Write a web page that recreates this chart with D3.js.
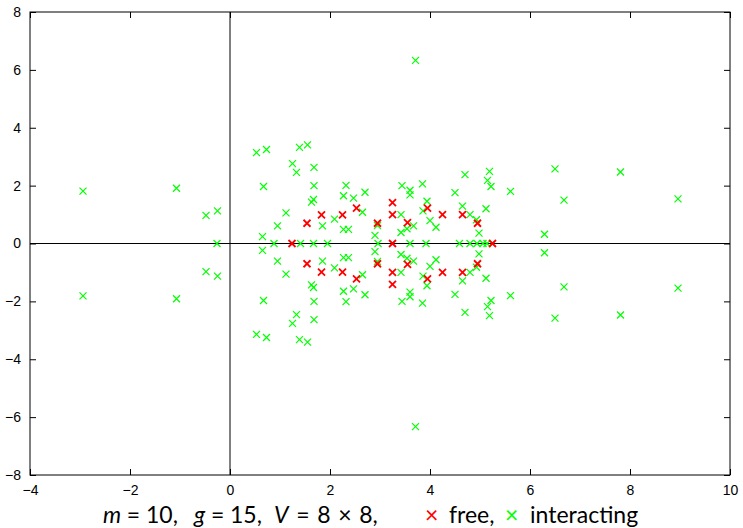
<!DOCTYPE html>
<html>
<head>
<meta charset="utf-8">
<script src="https://cdn.jsdelivr.net/npm/d3@7"></script>
<style>
  body { margin: 0; background: #fff; }
  svg { display: block; }
  .tick text { font-family: "Liberation Sans", Arial, sans-serif; font-size: 14px; fill: #000; }
  .caption { font-family: Lato, "DejaVu Sans", sans-serif; font-size: 23px; white-space: pre; fill: #000; }
</style>
</head>
<body>
<svg id="chart"></svg>
<script>
// Chart size
const width = 743;
const height = 528;

// Tick values
const xTicks = [-4, -2, 0, 2, 4, 6, 8, 10];
const yTicks = [-8, -6, -4, -2, 0, 2, 4, 6, 8];

// Free spectrum (red)
const freePoints = [
  [1.24, 0], [3.25, 0], [5.25, 0],
  [1.54, 0.70], [1.54, -0.70],
  [1.83, 0.99], [1.83, -0.99],
  [2.25, 0.99], [2.25, -0.99],
  [2.53, 1.22], [2.53, -1.22],
  [2.95, 0.70], [2.95, -0.70],
  [3.25, 1.41], [3.25, -1.41],
  [3.25, 1.00], [3.25, -1.00],
  [3.55, 0.72], [3.55, -0.72],
  [3.95, 1.22], [3.95, -1.22],
  [4.25, 1.00], [4.25, -1.00],
  [4.65, 1.00], [4.65, -1.00],
  [4.95, 0.70], [4.95, -0.70]
];

// Interacting spectrum (green)
const interactingPoints = [
  [-0.26, 0], [0.88, 0], [1.41, 0], [1.67, 0], [1.95, 0], [2.96, 0],
  [3.60, 0], [3.92, 0], [4.59, 0], [4.80, 0], [4.94, 0], [5.06, 0], [5.14, 0],
  [-2.94, 1.81], [-2.94, -1.81],
  [-1.07, 1.91], [-1.07, -1.91],
  [-0.48, 0.97], [-0.48, -0.97],
  [-0.25, 1.13], [-0.25, -1.13],
  [0.53, 3.14], [0.53, -3.14],
  [0.73, 3.25], [0.73, -3.25],
  [1.39, 3.32], [1.39, -3.32],
  [1.55, 3.41], [1.55, -3.41],
  [1.25, 2.76], [1.25, -2.76],
  [1.33, 2.46], [1.33, -2.46],
  [1.68, 2.63], [1.68, -2.63],
  [0.67, 1.97], [0.67, -1.97],
  [1.68, 2.00], [1.68, -2.00],
  [2.32, 2.01], [2.32, -2.01],
  [2.27, 1.65], [2.27, -1.65],
  [2.47, 1.57], [2.47, -1.57],
  [1.67, 1.52], [1.67, -1.52],
  [1.63, 1.43], [1.63, -1.43],
  [1.12, 1.06], [1.12, -1.06],
  [2.09, 0.84], [2.09, -0.84],
  [0.95, 0.61], [0.95, -0.61],
  [1.85, 0.61], [1.85, -0.61],
  [2.27, 0.49], [2.27, -0.49],
  [2.37, 0.49], [2.37, -0.49],
  [0.65, 0.24], [0.65, -0.24],
  [2.70, 1.77], [2.70, -1.77],
  [2.65, 1.08], [2.65, -1.08],
  [3.44, 2.00], [3.44, -2.00],
  [3.60, 1.84], [3.60, -1.84],
  [3.60, 1.68], [3.60, -1.68],
  [3.85, 2.06], [3.85, -2.06],
  [4.70, 2.38], [4.70, -2.38],
  [5.19, 2.49], [5.19, -2.49],
  [5.15, 2.18], [5.15, -2.18],
  [5.22, 1.97], [5.22, -1.97],
  [4.50, 1.76], [4.50, -1.76],
  [3.42, 1.00], [3.42, -1.00],
  [3.94, 1.46], [3.94, -1.46],
  [3.86, 1.13], [3.86, -1.13],
  [4.65, 1.29], [4.65, -1.29],
  [4.80, 1.00], [4.80, -1.00],
  [4.00, 0.79], [4.00, -0.79],
  [4.12, 0.56], [4.12, -0.56],
  [5.12, 1.20], [5.12, -1.20],
  [4.93, 0.82], [4.93, -0.82],
  [4.98, 0.36], [4.98, -0.36],
  [2.95, 0.62], [2.95, -0.62],
  [2.90, 0.28], [2.90, -0.28],
  [3.42, 0.38], [3.42, -0.38],
  [3.54, 0.51], [3.54, -0.51],
  [3.67, 0.61], [3.67, -0.61],
  [5.61, 1.80], [5.61, -1.80],
  [6.50, 2.58], [6.50, -2.58],
  [6.68, 1.50], [6.68, -1.50],
  [7.81, 2.47], [7.81, -2.47],
  [8.96, 1.54], [8.96, -1.54],
  [6.29, 0.32], [6.29, -0.32],
  [3.71, 6.33], [3.71, -6.33]
];

const svg = d3.select("#chart")
  .attr("width", width)
  .attr("height", height);

// Plot frame in pixels
const plotLeft = 30, plotRight = 730, plotTop = 12, plotBottom = 475;

const x = d3.scaleLinear().domain([-4, 10]).range([plotLeft, plotRight]);
const y = d3.scaleLinear().domain([-8, 8]).range([plotBottom, plotTop]);

// Axes with inward ticks, gnuplot style
svg.append("g")
  .attr("transform", `translate(0,${plotBottom})`)
  .call(d3.axisBottom(x).tickValues(xTicks).tickSize(-6).tickPadding(10))
  .call(g => g.select(".domain").remove());

svg.append("g")
  .attr("transform", `translate(0,${plotTop})`)
  .call(d3.axisTop(x).tickValues(xTicks).tickSize(-6).tickFormat(""))
  .call(g => g.select(".domain").remove());

svg.append("g")
  .attr("transform", `translate(${plotLeft},0)`)
  .call(d3.axisLeft(y).tickValues(yTicks).tickSize(-6).tickPadding(9))
  .call(g => g.select(".domain").remove());

svg.append("g")
  .attr("transform", `translate(${plotRight},0)`)
  .call(d3.axisRight(y).tickValues(yTicks).tickSize(-6).tickFormat(""))
  .call(g => g.select(".domain").remove());

svg.selectAll(".tick line").attr("stroke", "#000");

// Zero axes
svg.append("line")
  .attr("x1", x(0)).attr("x2", x(0))
  .attr("y1", y(8)).attr("y2", y(-8))
  .attr("stroke", "#000");
svg.append("line")
  .attr("x1", x(-4)).attr("x2", x(10))
  .attr("y1", y(0)).attr("y2", y(0))
  .attr("stroke", "#000");

// Frame
svg.append("rect")
  .attr("x", plotLeft).attr("y", plotTop)
  .attr("width", plotRight - plotLeft).attr("height", plotBottom - plotTop)
  .attr("fill", "none")
  .attr("stroke", "#000");

// Cross markers
const cross = "M-3.5,-3.5L3.5,3.5M-3.5,3.5L3.5,-3.5";

svg.selectAll(".inter")
  .data(interactingPoints)
  .enter()
  .append("path")
  .attr("class", "inter")
  .attr("d", cross)
  .attr("transform", d => `translate(${x(d[0])},${y(d[1])})`)
  .attr("stroke", "#00ff00")
  .attr("stroke-width", 1.2)
  .attr("fill", "none");

svg.selectAll(".free")
  .data(freePoints)
  .enter()
  .append("path")
  .attr("class", "free")
  .attr("d", cross)
  .attr("transform", d => `translate(${x(d[0])},${y(d[1])})`)
  .attr("stroke", "#ff0000")
  .attr("stroke-width", 1.8)
  .attr("fill", "none");

// Caption with legend, pieces placed like the LaTeX caption
const sp = "\u2005";   // narrow space for m and g parts
const md = "\u2004";   // a bit wider for the volume part
const caption = svg.append("text")
  .attr("class", "caption")
  .attr("y", 523);
caption.append("tspan").attr("x", 103).attr("font-style", "italic").text("m");
caption.append("tspan").text(`${sp}=${sp}10,`);
caption.append("tspan").attr("x", 194).attr("font-style", "italic").text("g");
caption.append("tspan").text(`${sp}=${sp}15,`);
caption.append("tspan").attr("x", 274).attr("font-style", "italic").text("V");
caption.append("tspan").text(`${md}=${md}8${md}×${md}8,`);
caption.append("tspan").attr("x", 425).attr("fill", "#ff0000").text("×");
caption.append("tspan").attr("x", 449).text("free,");
caption.append("tspan").attr("x", 505).attr("fill", "#00ff00").text("×");
caption.append("tspan").attr("x", 530).text("interacting");
</script>
</body>
</html>
